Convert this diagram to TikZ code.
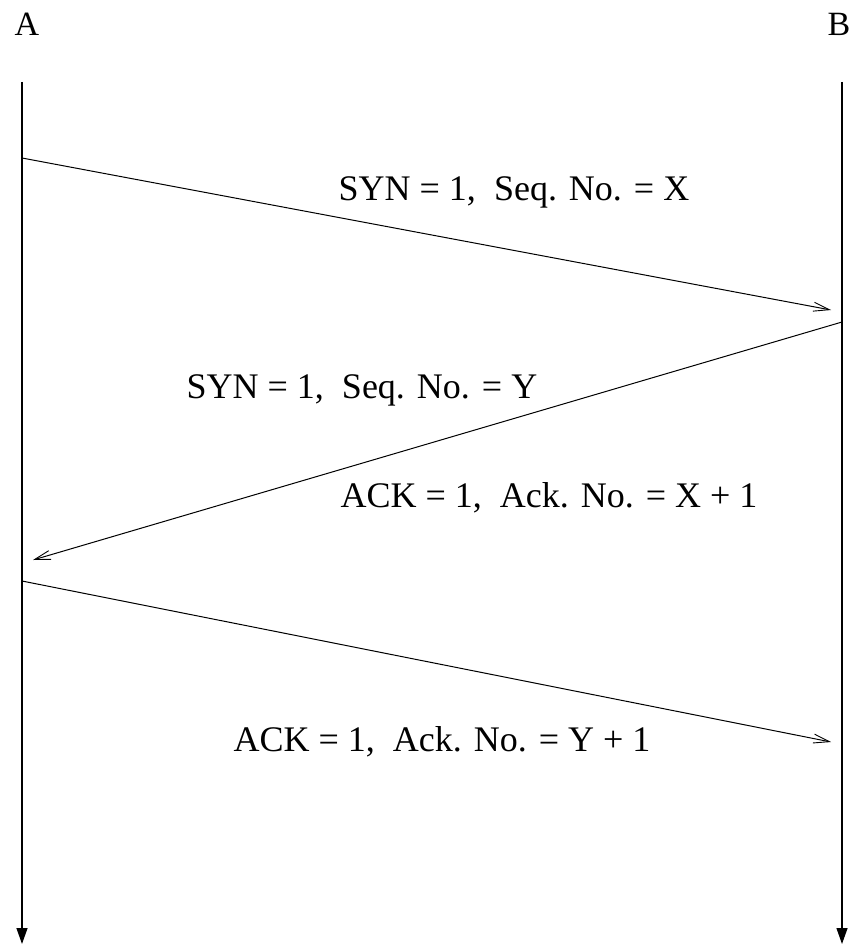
\documentclass[tikz,border=0pt]{standalone}
\usepackage{fontspec}
\setmainfont{Liberation Serif}
\usetikzlibrary{arrows.meta}
\begin{document}
\begin{tikzpicture}[x=1pt,y=-1pt,
  msg/.style={line width=1pt,-{Straight Barb[length=16pt,width=9pt,line width=0.9pt]}},
  life/.style={line width=1.3pt,-{Triangle[length=16pt,width=11pt]}},
  lbl/.style={font=\fontsize{36}{40}\selectfont, inner sep=0pt},
  who/.style={font=\fontsize{34}{36}\selectfont, inner sep=0pt}]
\useasboundingbox (0,0) rectangle (851,944);
\node[who] (A) at (27,24) {A};
\node[who] (B) at (839,24) {B};
\coordinate (a0) at (22,82);
\coordinate (a1) at (22,944);
\coordinate (b0) at (842,82);
\coordinate (b1) at (842,944);
\draw[life] (a0) -- (a1);
\draw[life] (b0) -- (b1);
\coordinate (m1s) at (22,158);
\coordinate (m1e) at (831,310);
\coordinate (m2s) at (842,322);
\coordinate (m2e) at (33,560);
\coordinate (m3s) at (22,581);
\coordinate (m3e) at (831,742);
\draw[msg] (m1s) -- (m1e);
\draw[msg] (m2s) -- (m2e);
\draw[msg] (m3s) -- (m3e);
\node[lbl] (l1) at (514,192) {SYN = 1,\ \ Seq. No. = X};
\node[lbl] (l2) at (362,390) {SYN = 1,\ \ Seq. No. = Y};
\node[lbl] (l3) at (549,498) {ACK = 1,\ \ Ack. No. = X + 1};
\node[lbl] (l4) at (442,742) {ACK = 1,\ \ Ack. No. = Y + 1};
\end{tikzpicture}
\end{document}
